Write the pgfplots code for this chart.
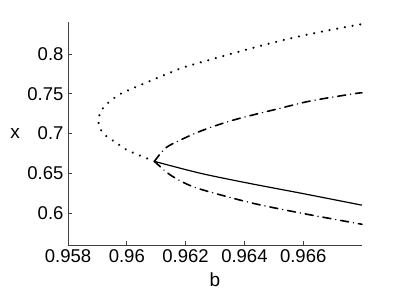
\documentclass[border=0pt]{standalone}
\usepackage{pgfplots}
\pgfplotsset{compat=1.18}
\usepackage{fontspec}
\setmainfont{Liberation Sans}

\begin{document}
\begin{tikzpicture}
  \useasboundingbox (-68pt,-46pt) rectangle (331pt,245pt);
  \begin{axis}[
      at={(0pt,0pt)}, anchor=south west,
      scale only axis,
      width=294pt, height=223pt,
      xmin=0.958, xmax=0.968,
      ymin=0.56, ymax=0.84,
      axis x line*=bottom,
      axis y line*=left,
      axis line style={black!75, line width=0.7pt},
      tick style={black!75, line width=0.7pt},
      tick align=inside,
      major tick length=4pt,
      xtick={0.958,0.96,0.962,0.964,0.966},
      xticklabels={0.958,0.96,0.962,0.964,0.966},
      ytick={0.6,0.65,0.7,0.75,0.8},
      yticklabels={0.6,0.65,0.7,0.75,0.8},
      tick label style={font=\fontsize{18.5}{20}\selectfont},
      xticklabel style={yshift=-1pt},
      yticklabel style={xshift=-1pt},
      label style={font=\fontsize{19}{21}\selectfont},
      xlabel={b},
      ylabel={x},
      xlabel style={at={(axis description cs:0.5,0)}, anchor=center, yshift=-35pt},
      ylabel style={at={(axis description cs:-0.18,0.5)}, anchor=center, rotate=-90},
      clip=false,
    ]
    % saddle-node branch (dotted)
    \addplot[black, smooth, line width=2.4pt, line cap=round, dash pattern=on 0.01pt off 7.8pt] coordinates {
      (0.96094,0.665) (0.96002,0.679) (0.95968,0.6875) (0.95920,0.700)
      (0.95903,0.7163) (0.95920,0.7325) (0.95968,0.7475) (0.96022,0.757)
      (0.96080,0.766) (0.96138,0.775) (0.96193,0.783) (0.96268,0.791)
      (0.96364,0.801) (0.96480,0.8125) (0.96593,0.8225) (0.96706,0.831)
      (0.96802,0.8375)
    };
    % upper dash-dot branch
    \addplot[black, smooth, line width=1.6pt, dash pattern=on 8pt off 5pt on 0.01pt off 5pt, line cap=round] coordinates {
      (0.96094,0.665) (0.96115,0.675) (0.96145,0.685) (0.96251,0.703)
      (0.96364,0.717) (0.96514,0.731) (0.96627,0.741) (0.96774,0.750)
      (0.96800,0.751)
    };
    % solid branch
    \addplot[black, smooth, line width=1.2pt] coordinates {
      (0.96094,0.665) (0.96251,0.650) (0.96422,0.637) (0.96593,0.625)
      (0.96800,0.610)
    };
    % lower dash-dot branch
    \addplot[black, smooth, line width=1.6pt, dash pattern=on 8pt off 5pt on 0.01pt off 5pt, line cap=round] coordinates {
      (0.96094,0.665) (0.96140,0.650) (0.96190,0.639) (0.96251,0.630)
      (0.96422,0.613) (0.96593,0.600) (0.96800,0.586)
    };
  \end{axis}
\end{tikzpicture}
\end{document}
